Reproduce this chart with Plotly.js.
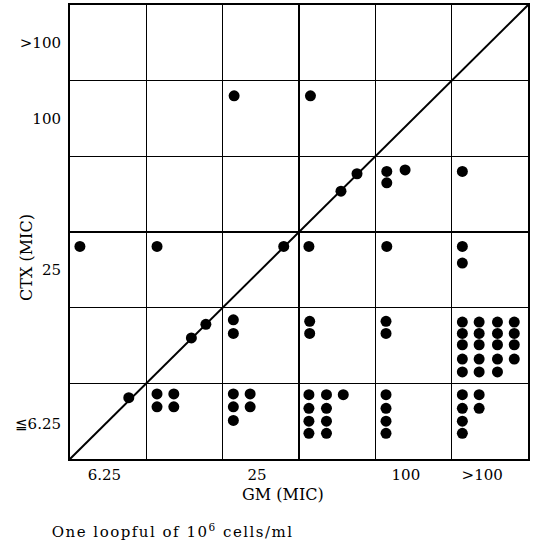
<!DOCTYPE html>
<html>
<head>
<meta charset="utf-8">
<script src="https://cdn.plot.ly/plotly-3.0.1.min.js"></script>
<style>html,body{margin:0;padding:0;background:#fff;}#chart{width:533px;height:543px;}</style>
</head>
<body>
<div id="chart"></div>
<script>
// GM MIC class positions (column units, 0..6) and CTX MIC class positions (row units, 0..6) of each strain
const gmPos = [
  2.15, 3.15,
  0.13, 1.14, 2.80, 3.13, 4.15, 5.14, 5.14,
  3.55, 3.76, 4.15, 4.39, 4.15, 5.14,
  0.77, 1.59, 1.78,
  2.14, 2.14,
  3.14, 3.14,
  4.14, 4.14,
  5.14, 5.14, 5.14, 5.14, 5.14,
  5.36, 5.36, 5.36, 5.36, 5.36,
  5.60, 5.60, 5.60, 5.60, 5.60,
  5.82, 5.82, 5.82, 5.82,
  1.14, 1.36, 1.14, 1.36,
  2.14, 2.14, 2.14, 2.36, 2.36,
  3.13, 3.13, 3.13, 3.13, 3.36, 3.36, 3.36, 3.36, 3.58,
  4.14, 4.14, 4.14, 4.14,
  5.14, 5.14, 5.14, 5.14, 5.36, 5.36
];
const ctxPos = [
  4.80, 4.80,
  2.81, 2.81, 2.81, 2.81, 2.81, 2.81, 2.59,
  3.54, 3.77, 3.80, 3.82, 3.65, 3.80,
  0.81, 1.60, 1.78,
  1.84, 1.66,
  1.82, 1.66,
  1.82, 1.66,
  1.81, 1.66, 1.51, 1.32, 1.15,
  1.81, 1.66, 1.51, 1.32, 1.15,
  1.81, 1.66, 1.51, 1.32, 1.15,
  1.81, 1.66, 1.51, 1.32,
  0.86, 0.86, 0.69, 0.69,
  0.86, 0.69, 0.51, 0.86, 0.69,
  0.85, 0.67, 0.50, 0.34, 0.85, 0.67, 0.50, 0.34, 0.85,
  0.85, 0.67, 0.50, 0.34,
  0.85, 0.67, 0.50, 0.34, 0.85, 0.67
];
// Equal-MIC reference line
const lineX = [0, 6];
const lineY = [0, 6];
// Class boundaries
const boundaries = [1, 2, 3, 4, 5];
// Tick labels
const xTickPos = [0.45, 2.45, 4.4, 5.4];
const xTickText = ['6.25', '25', '100', '>100'];
const yTickPos = [0.47, 2.5, 4.5, 5.5];
const yTickText = ['≦6.25', '25', '100', '>100'];

const FONT = 'DejaVu Serif, Liberation Serif, serif';

const traces = [
  {x: lineX, y: lineY, type: 'scatter', mode: 'lines',
   line: {color: '#000', width: 2}, hoverinfo: 'skip', showlegend: false, cliponaxis: false},
  {x: gmPos, y: ctxPos, type: 'scatter', mode: 'markers',
   marker: {color: '#000', size: 11, line: {width: 0}}, showlegend: false}
];

const axisCommon = {
  range: [0, 6], showline: true, mirror: true, linecolor: '#000', linewidth: 2,
  zeroline: false, showgrid: false, ticks: '', tickmode: 'array', fixedrange: true,
  tickfont: {family: FONT, size: 15, color: '#000'},
  minor: {tickmode: 'array', tickvals: boundaries, showgrid: true, gridcolor: '#000', gridwidth: 1.3, ticks: ''}
};

const layout = {
  width: 533, height: 543,
  margin: {l: 70, r: 5, t: 5, b: 84},
  paper_bgcolor: '#fff', plot_bgcolor: '#fff',
  xaxis: Object.assign({}, axisCommon, {tickvals: xTickPos, ticktext: xTickText, ticklabelstandoff: 1}),
  yaxis: Object.assign({}, axisCommon, {tickvals: yTickPos, ticktext: yTickText, ticklabelstandoff: 4}),
  annotations: [
    {text: 'GM (MIC)', xref: 'paper', yref: 'paper', x: 0.465, y: -0.079,
     xanchor: 'center', yanchor: 'middle', showarrow: false,
     font: {family: FONT, size: 16, color: '#000'}},
    {text: 'CTX (MIC)', xref: 'paper', yref: 'paper', x: -0.094, y: 0.445,
     xanchor: 'center', yanchor: 'middle', textangle: -90, showarrow: false,
     font: {family: FONT, size: 16, color: '#000'}},
    {text: 'One loopful of 10<sup>6</sup> cells/ml', xref: 'paper', yref: 'paper', x: 0.0, y: -0.159,
     xanchor: 'left', yanchor: 'middle', showarrow: false,
     font: {family: FONT, size: 15, color: '#000'}}
  ]
};

Plotly.newPlot('chart', traces, layout, {displayModeBar: false, staticPlot: true}).then(function () {
  document.querySelectorAll('.annotation-text').forEach(function (t) {
    if (t.textContent.indexOf('loopful') >= 0) t.style.letterSpacing = '1.5px';
  });
});
</script>
</body>
</html>
